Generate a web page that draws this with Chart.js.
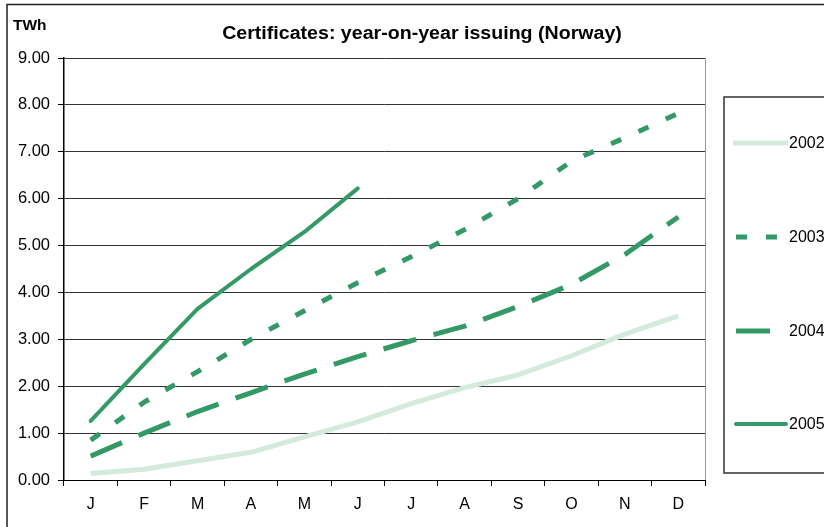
<!DOCTYPE html>
<html>
<head>
<meta charset="utf-8">
<script src="https://cdn.jsdelivr.net/npm/chart.js@4.4.1/dist/chart.umd.min.js"></script>
<style>
  html, body { margin: 0; padding: 0; background: #fff; }
  #wrap { width: 824px; height: 527px; }
</style>
</head>
<body>
<div id="wrap"><canvas id="graph" width="824" height="527"></canvas></div>
<script>
// months and cumulative issuing per year (TWh)
const months = ['J', 'F', 'M', 'A', 'M', 'J', 'J', 'A', 'S', 'O', 'N', 'D'];
const years = ['2002', '2003', '2004', '2005'];
const data2002 = [0.14, 0.23, 0.41, 0.59, 0.92, 1.24, 1.63, 1.97, 2.24, 2.65, 3.11, 3.50];
const data2003 = [0.85, 1.66, 2.31, 3.00, 3.61, 4.21, 4.76, 5.34, 6.00, 6.80, 7.30, 7.82];
const data2004 = [0.51, 1.00, 1.46, 1.86, 2.26, 2.63, 2.97, 3.28, 3.70, 4.17, 4.81, 5.61];
const data2005 = [1.26, 2.47, 3.65, 4.50, 5.29, 6.22];
const yTicks = [0, 1, 2, 3, 4, 5, 6, 7, 8, 9];

const green = '#339966';
const pale = '#d3eadc';
const font = '"Liberation Sans", Arial, sans-serif';

// line look per year; x0/x1 = sample span in the legend
const styles = [
    { color: pale, width: 5, dash: [], cap: 'butt', x0: 733, x1: 788 },
    { color: green, width: 5, dash: [11, 19], cap: 'butt', x0: 736, x1: 777 },
    { color: green, width: 5, dash: [34, 18], cap: 'butt', x0: 736, x1: 772 },
    { color: green, width: 4, dash: [], cap: 'round', x0: 736, x1: 786 }
];
const series = [data2002, data2003, data2004, data2005];

const datasets = series.map((d, i) => ({
    label: years[i],
    data: d,
    borderColor: styles[i].color,
    borderWidth: styles[i].width,
    borderDash: styles[i].dash,
    borderCapStyle: styles[i].cap,
    borderJoinStyle: 'round',
    pointRadius: 0,
    fill: false,
    tension: 0
}));

// frame, title, unit label and the boxed legend on the right
const decor = {
    id: 'decor',
    beforeDraw(chart) {
        const ctx = chart.ctx;
        ctx.save();
        ctx.fillStyle = '#fff';
        ctx.fillRect(0, 0, chart.width, chart.height);
        ctx.strokeStyle = '#222';
        ctx.lineWidth = 1.5;
        ctx.beginPath();
        ctx.moveTo(7, 527);
        ctx.lineTo(7, 4.5);
        ctx.lineTo(824, 4.5);
        ctx.stroke();
        ctx.restore();
    },
    afterDraw(chart) {
        const ctx = chart.ctx;
        const area = chart.chartArea;
        ctx.save();
        // right edge of plot
        ctx.strokeStyle = '#999';
        ctx.lineWidth = 1;
        ctx.beginPath();
        ctx.moveTo(area.right + 0.5, area.top);
        ctx.lineTo(area.right + 0.5, area.bottom);
        ctx.stroke();

        ctx.fillStyle = '#000';
        ctx.textBaseline = 'middle';
        // title is a little wider than its height suggests
        ctx.save();
        ctx.translate(422, 34);
        ctx.scale(1.12, 1);
        ctx.font = 'bold 17.5px ' + font;
        ctx.textAlign = 'center';
        ctx.fillText('Certificates: year-on-year issuing (Norway)', 0, 0);
        ctx.restore();
        ctx.font = 'bold 15.5px ' + font;
        ctx.textAlign = 'left';
        ctx.fillText('TWh', 13, 26);

        // legend box
        ctx.strokeStyle = '#333';
        ctx.lineWidth = 1.5;
        ctx.beginPath();
        ctx.moveTo(824, 97);
        ctx.lineTo(724, 97);
        ctx.lineTo(724, 473);
        ctx.lineTo(824, 473);
        ctx.stroke();

        const rows = [143, 237, 331, 424];
        ctx.font = '16px ' + font;
        rows.forEach((y, i) => {
            const s = styles[i];
            ctx.strokeStyle = s.color;
            ctx.lineWidth = s.width;
            ctx.lineCap = s.cap;
            ctx.setLineDash(s.dash);
            ctx.beginPath();
            ctx.moveTo(s.x0, y);
            ctx.lineTo(s.x1, y);
            ctx.stroke();
            ctx.setLineDash([]);
            ctx.fillStyle = '#000';
            ctx.fillText(years[i], 789, y + 1);
        });
        ctx.restore();
    }
};

const config = {
    type: 'line',
    data: { labels: months, datasets: datasets },
    options: {
        responsive: false,
        animation: false,
        layout: { padding: { top: 58, right: 119, left: 0, bottom: 0 } },
        plugins: {
            legend: { display: false },
            title: { display: false },
            tooltip: { enabled: false }
        },
        scales: {
            x: {
                offset: true,
                afterFit: s => { s.height = 47; },
                grid: {
                    offset: true,
                    drawOnChartArea: false,
                    drawTicks: true,
                    tickLength: 6,
                    color: '#000'
                },
                border: { color: '#000', width: 1 },
                ticks: {
                    color: '#000',
                    font: { family: font, size: 16 },
                    padding: 9,
                    maxRotation: 0
                }
            },
            y: {
                min: 0,
                max: 9,
                afterFit: s => { s.width = 64; },
                afterBuildTicks: s => { s.ticks = yTicks.map(v => ({ value: v })); },
                grid: {
                    color: '#333',
                    lineWidth: 1,
                    drawTicks: true,
                    tickLength: 6,
                    tickColor: '#000'
                },
                border: { color: '#000', width: 1.5 },
                ticks: {
                    color: '#000',
                    font: { family: font, size: 16.5 },
                    padding: 8,
                    callback: v => v.toFixed(2)
                }
            }
        }
    },
    plugins: [decor]
};

const ctx = document.getElementById('graph').getContext('2d');
const graph = new Chart(ctx, config);
</script>
</body>
</html>
